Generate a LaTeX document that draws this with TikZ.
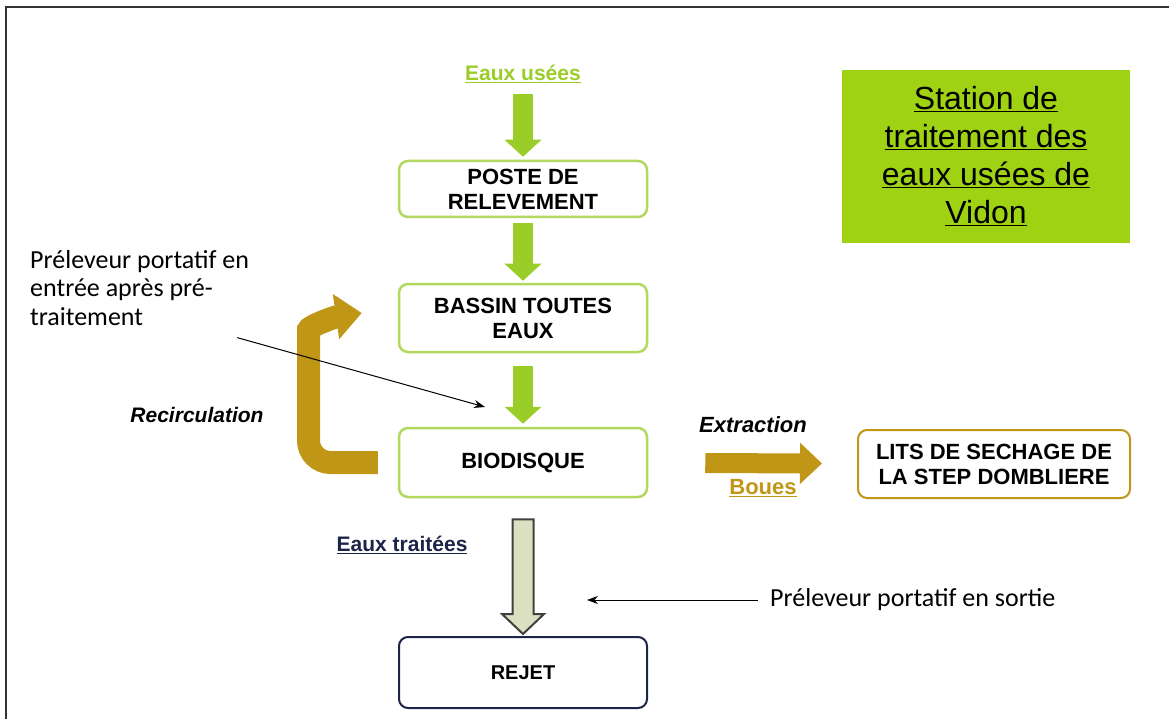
\documentclass[tikz,border=0pt]{standalone}
\usepackage{fontspec}
\setmainfont{Liberation Sans}
\newfontfamily\carlito{Carlito}
\usetikzlibrary{arrows.meta,calc}
\definecolor{vert}{RGB}{155,205,40}
\definecolor{vertclair}{RGB}{178,216,96}
\definecolor{ocre}{RGB}{191,150,22}
\definecolor{titre}{RGB}{160,210,20}
\definecolor{marine}{RGB}{28,36,72}
\definecolor{pale}{RGB}{218,224,192}
\tikzset{
  etape/.style={draw=vertclair, line width=2.5pt, rounded corners=9pt,
    minimum width=248pt, align=center, inner sep=0pt,
    font=\fontsize{22}{25}\selectfont\bfseries},
  flechevert/.style={draw=vert, line width=20pt, -{Triangle[length=17pt,width=36pt]}},
  flecheor/.style={draw=ocre, line width=20pt, -{Triangle[length=22pt,width=40pt]}},
  note/.style={font=\carlito\fontsize{26}{28.5}\selectfont, align=left, inner sep=0pt},
  fin/.style={line width=1pt, -{Stealth[length=11pt,width=8pt]}},
}
\begin{document}
\begin{tikzpicture}[x=1pt,y=-1pt]
\useasboundingbox (0,0) rectangle (1169,719);
% cadre
\draw[line width=1.8pt, black!80] (6,719) -- (6,7) -- (1169,7);

% titre
\node[fill=titre, minimum width=288pt, minimum height=173pt, align=center,
  font=\fontsize{32}{38}\selectfont] (titre) at (986,156.5)
  {\underline{Station de}\\\underline{traitement des}\\\underline{eaux usées de}\\\underline{Vidon}};

% filiere eau
\node[text=vert, font=\fontsize{21}{25}\selectfont\bfseries] (usees) at (523,74) {\underline{Eaux usées}};
\node[etape, minimum height=56pt] (poste) at (523,189) {POSTE DE\\RELEVEMENT};
\node[etape, minimum height=68pt] (bassin) at (523,318) {BASSIN TOUTES\\EAUX};
\node[etape, minimum height=69pt] (biodisque) at (523,462.5) {BIODISQUE};
\node[etape, draw=marine, line width=2pt, minimum height=71pt,
  font=\fontsize{20}{22}\selectfont\bfseries] (rejet) at (523,672.5) {REJET};
\node[etape, draw=ocre, line width=2pt, minimum width=272pt, minimum height=68pt] (lits) at (994,464)
  {LITS DE SECHAGE DE\\LA STEP DOMBLIERE};

\draw[flechevert, shorten <=8pt, shorten >=3pt] (usees.south) -- (poste);
\draw[flechevert, shorten <=5pt, shorten >=2pt] (poste) -- (bassin);
\draw[flechevert, shorten <=13pt, shorten >=3pt] (bassin) -- (biodisque);

% eaux traitees
\coordinate (pa) at ([yshift=-21pt]biodisque.south);
\path (pa |- rejet.north) ++(0,-2) coordinate (pb);
\filldraw[fill=pale, draw=black!75, line width=2pt, line join=miter]
  ($(pa)+(-10.5,0)$) -- ($(pa)+(10.5,0)$) -- ($(pb)+(10.5,-20)$) -- ($(pb)+(21,-20)$)
  -- (pb) -- ($(pb)+(-21,-20)$) -- ($(pb)+(-10.5,-20)$) -- cycle;
\node[text=marine, font=\fontsize{21}{25}\selectfont\bfseries, anchor=east] (traitees) at (471,545) {\underline{Eaux traitées}};

% boues
\draw[flecheor, line width=23pt, -{Triangle[length=26pt,width=44pt]}, rounded corners=22pt]
  ([xshift=-20pt]biodisque.west) -- (308.5,462.5) -- (308.5,352)
  to[out=90,in=188] ([xshift=-36pt,yshift=5pt]bassin.west);
\node[font=\fontsize{21}{25}\selectfont\bfseries\itshape] (recirc) at (197,415) {Recirculation};
\draw[flecheor, shorten <=57pt, shorten >=35pt] (biodisque) -- (lits);
\node[font=\fontsize{22}{25}\selectfont\bfseries\itshape] (extraction) at (753,425) {Extraction};
\node[text=ocre, font=\fontsize{22}{25}\selectfont\bfseries] (boues) at (763,488) {\underline{Boues}};

% preleveurs
\node[note, anchor=north west] (prelentree) at (30,250) {Préleveur portatif en\\entrée après pré-\\traitement};
\coordinate (cible) at (485,407);
\draw[fin] ([xshift=-12pt,yshift=-12pt]prelentree.south east) -- (cible);
\node[note, anchor=west] (prelsortie) at (770,600) {Préleveur portatif en sortie};
\coordinate (cible2) at (587,600);
\draw[fin] ([xshift=-12pt]prelsortie.west) -- (cible2);
\end{tikzpicture}
\end{document}
